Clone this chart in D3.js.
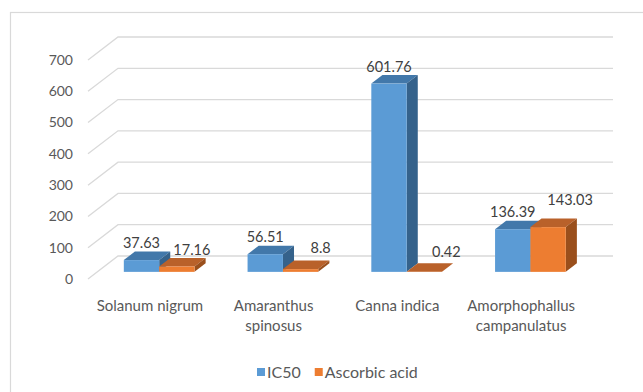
<!DOCTYPE html>
<html>
<head>
<meta charset="utf-8">
<script src="https://cdn.jsdelivr.net/npm/d3@7"></script>
<style>
  html, body { margin: 0; padding: 0; background: #ffffff; }
  svg { display: block; font-family: Lato, "Open Sans", sans-serif; }
</style>
</head>
<body>
<svg id="chart" width="643" height="392"></svg>
<script>
// Plant extracts and the two measured series
const categories = ["Solanum nigrum", "Amaranthus spinosus", "Canna indica", "Amorphophallus campanulatus"];
const seriesNames = ["IC50", "Ascorbic acid"];
const ic50 = [37.63, 56.51, 601.76, 136.39];
const ascorbicAcid = [17.16, 8.8, 0.42, 143.03];
const yTicks = [0, 100, 200, 300, 400, 500, 600, 700];

// Label nudges (px) for the Ascorbic acid value labels
const ascLabelDx = [15, 20, 22, 22];
const ascLabelDy = [0, -4, -3, -10];

const series = [ic50, ascorbicAcid];

const colors = [
  { front: "#5B9BD5", top: "#4278AA", side: "#35628B" },
  { front: "#ED7D31", top: "#B9612A", side: "#9A4F1C" }
];

const svg = d3.select("#chart");
const textColor = "#595959";
const gridColor = "#D9D9D9";

// Oblique 3D projection: depth z in [0,1] shifts right and up
const DX = 30, DY = 23;
const z0 = 0.31, z1 = 0.68;

const y = d3.scaleLinear().domain([0, 700]).range([279, 60]);
const x0 = d3.scaleBand().domain(categories).range([88, 583]).paddingInner(0).paddingOuter(0);
const barW = x0.bandwidth() / 3.5;
const x1 = d3.scaleBand().domain(seriesNames)
  .range([(x0.bandwidth() - 2 * barW) / 2, (x0.bandwidth() + 2 * barW) / 2]);

// Chart border
svg.append("rect")
  .attr("x", 10.5).attr("y", 12.5)
  .attr("width", 700).attr("height", 420)
  .attr("fill", "none").attr("stroke", gridColor).attr("stroke-width", 1.2);

// Gridlines: side wall diagonal + back wall horizontal
const xL = x0.range()[0], xR = x0.range()[1];
svg.append("g").selectAll("path")
  .data(yTicks)
  .join("path")
  .attr("d", t => {
    const yf = y(t);
    return `M${xL},${yf} L${xL + DX},${yf - DY} L${xR + DX},${yf - DY}`;
  })
  .attr("fill", "none")
  .attr("stroke", gridColor)
  .attr("stroke-width", 1.3);

// Y axis labels
svg.append("g").selectAll("text")
  .data(yTicks)
  .join("text")
  .attr("x", 73)
  .attr("y", t => y(t))
  .attr("dy", "0.35em")
  .attr("text-anchor", "end")
  .attr("font-size", 14)
  .attr("fill", textColor)
  .text(d => d);

// Bars
const bars = [];
categories.forEach((c, i) => {
  seriesNames.forEach((s, j) => {
    bars.push({ cat: c, i, j, value: series[j][i] });
  });
});

const gBars = svg.append("g");
bars.forEach(b => {
  const xl = x0(b.cat) + x1(seriesNames[b.j]) + z0 * DX;
  const xr = xl + x1.bandwidth();
  const yt = y(b.value) - z0 * DY;
  const yb = y(0) - z0 * DY;
  const ddx = (z1 - z0) * DX, ddy = (z1 - z0) * DY;
  const col = colors[b.j];
  b.xc = (xl + xr) / 2;
  b.backTop = yt - ddy;

  const g = gBars.append("g");
  g.append("polygon")
    .attr("points", [[xl, yt], [xr, yt], [xr + ddx, yt - ddy], [xl + ddx, yt - ddy]].join(" "))
    .attr("fill", col.top);
  g.append("polygon")
    .attr("points", [[xr, yt], [xr + ddx, yt - ddy], [xr + ddx, yb - ddy], [xr, yb]].join(" "))
    .attr("fill", col.side);
  g.append("rect")
    .attr("x", xl).attr("y", yt)
    .attr("width", xr - xl).attr("height", Math.max(0, yb - yt))
    .attr("fill", col.front);
});

// Value labels
const fmt = v => String(v);
svg.append("g").selectAll("text")
  .data(bars)
  .join("text")
  .attr("x", b => b.xc + (b.j === 1 ? ascLabelDx[b.i] : 0))
  .attr("y", b => b.backTop - 8.5 + (b.j === 1 ? ascLabelDy[b.i] : 0))
  .attr("dy", "0.35em")
  .attr("text-anchor", "middle")
  .attr("font-size", 14.5)
  .attr("fill", "#404040")
  .text(b => fmt(b.value));

// Category labels, wrapped to the band width
const gCat = svg.append("g");
categories.forEach(c => {
  const cx = x0(c) + x0.bandwidth() / 2;
  const t = gCat.append("text")
    .attr("x", cx).attr("y", 311)
    .attr("text-anchor", "middle")
    .attr("font-size", 15)
    .attr("fill", textColor);
  const words = c.split(" ");
  let line = [];
  let tspan = t.append("tspan").attr("x", cx).attr("y", 311);
  let lineNo = 0;
  words.forEach(w => {
    line.push(w);
    tspan.text(line.join(" "));
    if (tspan.node().getComputedTextLength() > x0.bandwidth() - 6 && line.length > 1) {
      line.pop();
      tspan.text(line.join(" "));
      line = [w];
      lineNo++;
      tspan = t.append("tspan").attr("x", cx).attr("y", 311 + lineNo * 20).text(w);
    }
  });
});

// Legend
const legend = svg.append("g");
let lx = 257;
seriesNames.forEach((s, j) => {
  legend.append("rect")
    .attr("x", lx).attr("y", 368)
    .attr("width", 8).attr("height", 8)
    .attr("fill", colors[j].front);
  const t = legend.append("text")
    .attr("x", lx + 10).attr("y", 372)
    .attr("dy", "0.35em")
    .attr("font-size", 16)
    .attr("fill", textColor)
    .text(s);
  lx += 10 + t.node().getComputedTextLength() + 14;
});
</script>
</body>
</html>
